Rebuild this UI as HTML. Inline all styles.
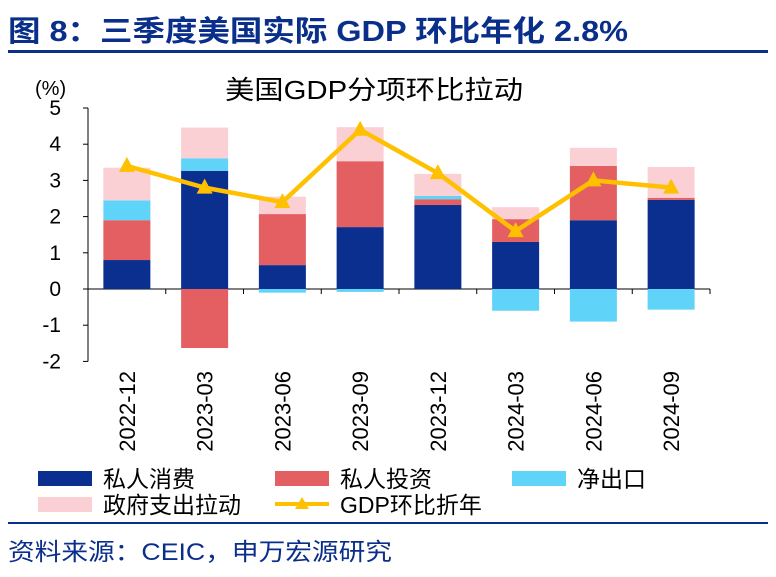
<!DOCTYPE html>
<html><head><meta charset="utf-8"><style>
body{margin:0;background:#fff;width:776px;height:572px;overflow:hidden;font-family:"Liberation Sans","Noto Sans CJK SC",sans-serif;}
</style></head><body>
<svg width="776" height="572" xmlns="http://www.w3.org/2000/svg" id="chart" font-family="Liberation Sans, Noto Sans CJK SC, sans-serif">
<text x="8" y="41" font-size="29" font-weight="bold" fill="#0a2f8a" textLength="620" lengthAdjust="spacingAndGlyphs">图 8：三季度美国实际 GDP 环比年化 2.8%</text>
<rect x="8" y="50" width="760" height="3" fill="#0a2f8a"/>
<text x="225" y="99" font-size="26" textLength="298" lengthAdjust="spacingAndGlyphs" fill="#000">美国GDP分项环比拉动</text>
<text x="35" y="95" font-size="20">(%)</text>
<g id="axes"></g><g id="bars"></g><g id="line"></g>
<g font-size="23">
<rect x="38" y="471" width="54" height="15" fill="#0b2f8f"/>
<text x="103" y="487">私人消费</text>
<rect x="275" y="471" width="54" height="15" fill="#e35f61"/>
<text x="340" y="487">私人投资</text>
<rect x="512" y="471" width="54" height="15" fill="#5fd3f8"/>
<text x="577" y="487">净出口</text>
<rect x="38" y="497" width="54" height="15" fill="#fbd0d5"/>
<text x="103" y="513">政府支出拉动</text>
<line x1="275" y1="504" x2="329" y2="504" stroke="#ffc000" stroke-width="4"/>
<polygon points="302,497 309,509 295,509" fill="#ffc000"/>
<text x="340" y="513">GDP环比折年</text>
</g>
<rect x="8" y="522" width="760" height="2" fill="#0a2f8a"/>
<text x="8" y="560" font-size="24" textLength="384" lengthAdjust="spacingAndGlyphs" fill="#0a2f8a">资料来源：CEIC，申万宏源研究</text>
</svg>
<script>
const categories=["2022-12","2023-03","2023-06","2023-09","2023-12","2024-03","2024-06","2024-09"];
const consumption=[0.8,3.26,0.66,1.71,2.32,1.3,1.9,2.46];
const investment=[1.1,-1.63,1.41,1.82,0.16,0.63,1.5,0.06];
const netExports=[0.55,0.35,-0.1,-0.08,0.09,-0.6,-0.9,-0.57];
const government=[0.9,0.85,0.48,0.94,0.61,0.33,0.5,0.85];
const gdp=[3.4,2.8,2.4,4.4,3.2,1.6,3.0,2.8];
const yTicks=[-2,-1,0,1,2,3,4,5];
const NS="http://www.w3.org/2000/svg";
const x0=88,x1=710,yTop=108;
const y=v=>289-v*36.2;
const band=(x1-x0)/categories.length;
const xc=i=>x0+band*(i+0.5);
function mk(t,a,p){const e=document.createElementNS(NS,t);for(const k in a)e.setAttribute(k,a[k]);p.appendChild(e);return e;}
const axes=document.getElementById('axes');
const ya=mk('line',{x1:x0,y1:yTop,x2:x0,y2:y(-2),stroke:'#000'},axes);


yTicks.forEach(t=>{
 mk('line',{x1:x0-5,y1:y(t),x2:x0,y2:y(t),stroke:'#000'},axes);
 const tx=mk('text',{x:61,y:y(t)+7,'font-size':21,'text-anchor':'end'},axes);tx.textContent=t;
 
 
});
const xa=mk('line',{x1:x0,y1:y(0),x2:x1,y2:y(0),stroke:'#000'},axes);


categories.forEach((c,i)=>{
 mk('line',{x1:x0+band*(i+1),y1:y(0),x2:x0+band*(i+1),y2:y(0)+5,stroke:'#000'},axes);
 const tx=mk('text',{x:0,y:0,'font-size':22,'text-anchor':'end',transform:`translate(${xc(i)+8},${371}) rotate(-90)`},axes);tx.textContent=c;
 
 
});
const bars=document.getElementById('bars');
const series=[[consumption,'#0b2f8f','consumption'],[investment,'#e35f61','investment'],[netExports,'#5fd3f8','net-exports'],[government,'#fbd0d5','government']];
const bw=47;
categories.forEach((c,i)=>{
 let pos=0,neg=0;
 series.forEach(([arr,col,nm])=>{
  const v=arr[i];let a,b;
  if(v>=0){a=pos;b=pos+v;pos=b;}else{a=neg;b=neg+v;neg=b;}
  const r=mk('rect',{x:xc(i)-bw/2,y:Math.min(y(a),y(b)),width:bw,height:Math.abs(y(a)-y(b)),fill:col},bars);
  
  
 });
});
const lg=document.getElementById('line');
const pl=mk('polyline',{points:gdp.map((v,i)=>xc(i)+','+y(v)).join(' '),fill:'none',stroke:'#ffc000','stroke-width':4.5,'stroke-linejoin':'round'},lg);


gdp.forEach((v,i)=>{
 const p=mk('polygon',{points:`${xc(i)},${y(v)-9} ${xc(i)+8},${y(v)+6} ${xc(i)-8},${y(v)+6}`,fill:'#ffc000'},lg);
 
 
});
</script>
</body></html>
